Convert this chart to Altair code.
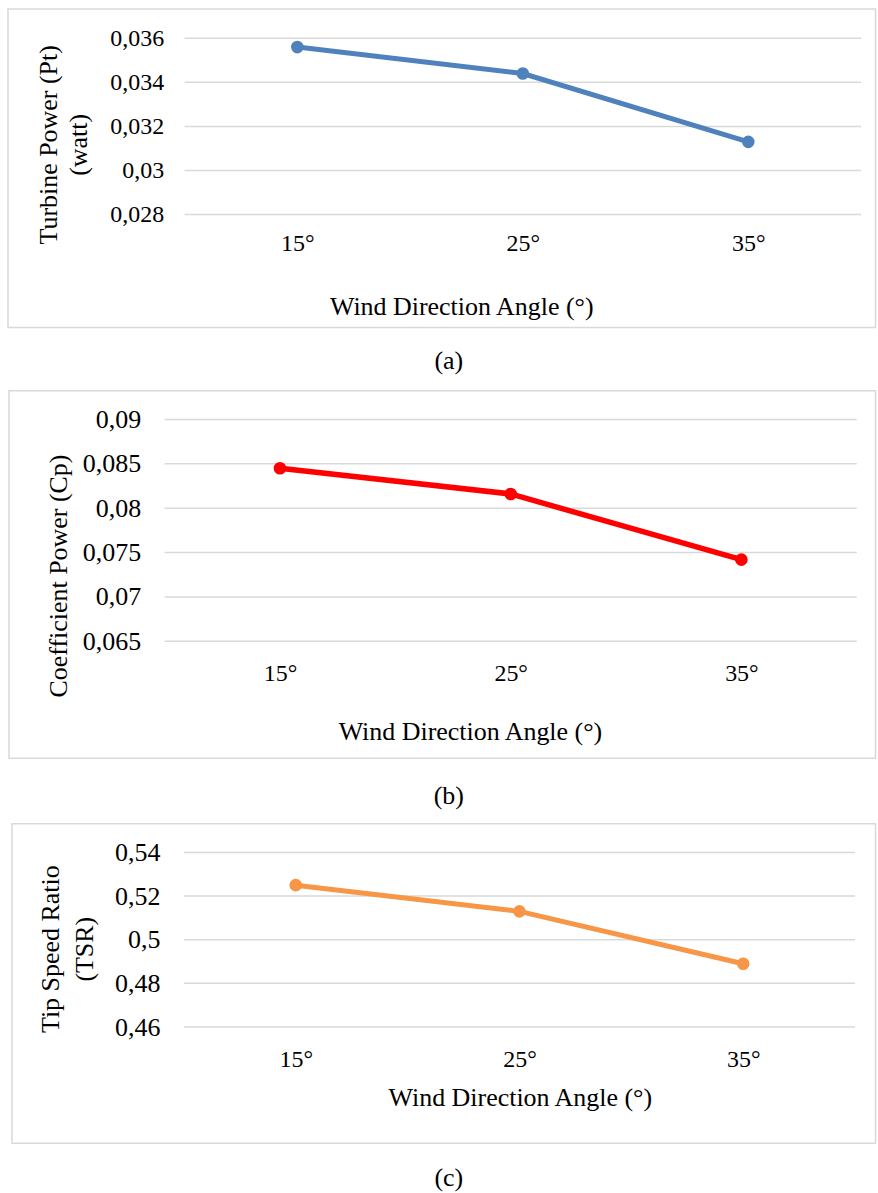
import altair as alt
import pandas as pd

# Wind direction angles tested
angles = ["15°", "25°", "35°"]

# Measured series
turbine_power = [0.0356, 0.0344, 0.0313]      # Pt (watt)
power_coeff = [0.0845, 0.0816, 0.0742]        # Cp
tip_speed_ratio = [0.525, 0.513, 0.489]       # TSR

# Y-axis tick values for each panel
power_ticks = [0.028, 0.030, 0.032, 0.034, 0.036]
cp_ticks = [0.065, 0.070, 0.075, 0.080, 0.085, 0.090]
tsr_ticks = [0.46, 0.48, 0.50, 0.52, 0.54]

FONT = "Liberation Serif"
GRID = "#d9d9d9"
# decimal comma, trailing zeros dropped
LABEL_EXPR = "replace(format(datum.value, '.3~f'), '.', ',')"

one_row = pd.DataFrame({"k": [0]})


def panel(values, ticks, color, y_title, caption, g):
    df = pd.DataFrame({"angle": angles, "value": values})
    grid_df = pd.DataFrame({"value": ticks})
    y_scale = alt.Scale(domain=[ticks[0], ticks[-1]], nice=False, zero=False)
    y_axis = alt.Axis(
        title=y_title, values=ticks, labelExpr=LABEL_EXPR,
        labelFont=FONT, labelFontSize=g["yfs"], labelColor="#000000",
        labelPadding=g["ylp"], labelFlush=False, labelOverlap=False,
        ticks=False, domain=False, grid=False,
        titleFont=FONT, titleFontSize=26, titleFontWeight="normal",
        titleColor="#000000", titleAngle=270,
        titleX=g["ytx"], titleY=g["yty"], titleAlign="center",
        titleBaseline="middle", titleLineHeight=g["ylh"],
    )
    y_enc = alt.Y("value:Q", scale=y_scale, axis=y_axis)

    # invisible spacer that fixes the panel's outer extent
    spacer = alt.Chart(one_row).mark_rect(fill="white", opacity=0).encode(
        x=alt.value(g["sp"][0]), x2=alt.value(g["sp"][1]),
        y=alt.value(g["sp"][2]), y2=alt.value(g["sp"][3]),
    )
    # light frame around each chart
    frame = alt.Chart(one_row).mark_rect(
        fill="white", fillOpacity=0, stroke=GRID, strokeWidth=1.5
    ).encode(
        x=alt.value(g["fr"][0]), x2=alt.value(g["fr"][1]),
        y=alt.value(g["fr"][2]), y2=alt.value(g["fr"][3]),
    )
    # horizontal gridlines at each y tick
    grid = alt.Chart(grid_df).mark_rule(color=GRID, strokeWidth=1.5).encode(
        y=y_enc, x=alt.value(g["xr"][0]), x2=alt.value(g["xr"][1]),
    )

    line = alt.Chart(df).mark_line(
        color=color, strokeWidth=g["lw"],
        point=alt.OverlayMarkDef(filled=True, color=color, size=g["ps"], opacity=1),
    ).encode(
        x=alt.X(
            "angle:N", sort=angles,
            scale=alt.Scale(type="point", padding=0.5, range=list(g["xr"])),
            axis=alt.Axis(
                title="Wind Direction Angle (°)",
                labelAngle=0, labelFont=FONT, labelFontSize=g["xfs"],
                labelColor="#000000", labelPadding=g["xlp"],
                ticks=False, domain=False, grid=False,
                titleFont=FONT, titleFontSize=26, titleFontWeight="normal",
                titleColor="#000000", titleX=g["xtx"], titleY=g["xty"],
                titleAlign="center", titleBaseline="alphabetic",
            ),
        ),
        y=y_enc,
    )

    cap = alt.Chart(one_row).mark_text(
        font=FONT, fontSize=26, color="#000000", align="center", baseline="middle"
    ).encode(
        x=alt.value(g["cap"][0]), y=alt.value(g["cap"][1]), text=alt.value(caption)
    )

    return alt.layer(spacer, frame, grid, line, cap).properties(
        width=g["w"], height=g["h"]
    )


# every panel's plot origin sits at x=164; offsets below are relative to it
geo_a = dict(
    w=698, h=176.7, xr=(20, 698), lw=5, ps=160, xfs=24, yfs=24, xlp=17, ylp=1,
    xtx=297.3, xty=100, ytx=-116, yty=106.3, ylh=30,
    sp=(-159, 714, -31.3, 349), fr=(-157, 712.5, -29.3, 290),
    cap=(284.8, 323.5),
)
geo_b = dict(
    w=693.7, h=222.4, xr=(0, 693.7), lw=5.5, ps=160, xfs=24, yfs=26, xlp=20.7, ylp=24,
    xtx=306, xty=98, ytx=-106.5, yty=156.5, ylh=30,
    sp=(-159, 714, -31, 401), fr=(-156, 712.5, -28.6, 339.7),
    cap=(284.8, 377),
)
geo_c = dict(
    w=692, h=175, xr=(19.3, 692), lw=5, ps=160, xfs=24, yfs=26, xlp=20.6, ylp=4.7,
    xtx=356, xty=79, ytx=-114, yty=96.5, ylh=34,
    sp=(-159, 714, -31.4, 338), fr=(-153, 712.5, -28.7, 291.6),
    cap=(284.8, 326.3),
)

chart_a = panel(turbine_power, power_ticks, "#4F81BD",
                ["Turbine Power (Pt)", "(watt)"], "(a)", geo_a)
chart_b = panel(power_coeff, cp_ticks, "#FF0000",
                "Coefficient Power (Cp)", "(b)", geo_b)
chart_c = panel(tip_speed_ratio, tsr_ticks, "#F79646",
                ["Tip Speed Ratio", "(TSR)"], "(c)", geo_c)

chart = alt.vconcat(chart_a, chart_b, chart_c, spacing=0).properties(
    padding={"left": 5, "top": 5, "right": 0, "bottom": 0},
    background="white",
).configure_view(stroke="transparent")

chart.save("out.html", embed_options={"renderer": "svg", "actions": False})
